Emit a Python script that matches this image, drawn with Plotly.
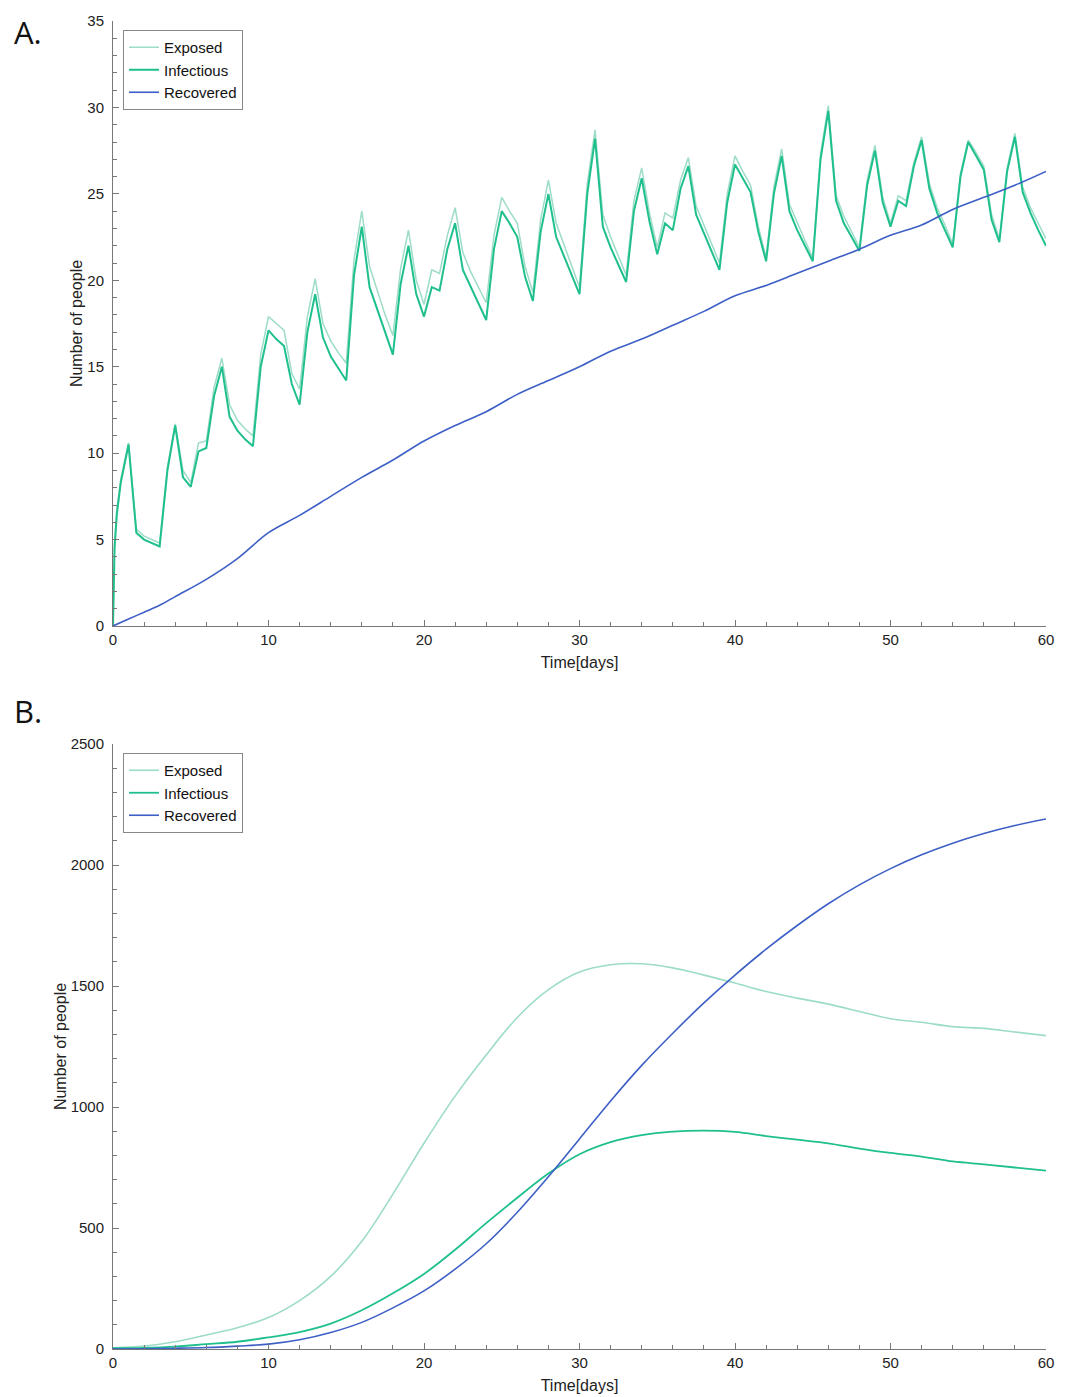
import plotly.graph_objects as go

# ---------------- Panel A data ----------------
t_A = [0, 0.1, 0.25, 0.5,
       1.0, 1.5, 2.0, 2.5, 3.0, 3.5, 4.0, 4.5, 5.0, 5.5, 6.0, 6.5, 7.0, 7.5, 8.0, 8.5, 9.0, 9.5, 10.0,
       10.5, 11.0, 11.5, 12.0, 12.5, 13.0, 13.5, 14.0, 14.5, 15.0, 15.5, 16.0, 16.5, 17.0, 17.5, 18.0,
       18.5, 19.0, 19.5, 20.0, 20.5, 21.0, 21.5, 22.0, 22.5, 23.0, 23.5, 24.0, 24.5, 25.0, 25.5, 26.0,
       26.5, 27.0, 27.5, 28.0, 28.5, 29.0, 29.5, 30.0, 30.5, 31.0, 31.5, 32.0, 32.5, 33.0, 33.5, 34.0,
       34.5, 35.0, 35.5, 36.0, 36.5, 37.0, 37.5, 38.0, 38.5, 39.0, 39.5, 40.0, 40.5, 41.0, 41.5, 42.0,
       42.5, 43.0, 43.5, 44.0, 44.5, 45.0, 45.5, 46.0, 46.5, 47.0, 47.5, 48.0, 48.5, 49.0, 49.5, 50.0,
       50.5, 51.0, 51.5, 52.0, 52.5, 53.0, 53.5, 54.0, 54.5, 55.0, 55.5, 56.0, 56.5, 57.0, 57.5, 58.0,
       58.5, 59.0, 59.5, 60.0]

infectious_A = [0, 4.5, 6.5, 8.3,
                10.5, 5.4, 5.0, 4.8, 4.6, 9.0, 11.6, 8.6, 8.05, 10.1, 10.3, 13.3, 15.0, 12.1, 11.3, 10.8, 10.4, 15.0, 17.1,
                16.6, 16.2, 14.0, 12.8, 17.0, 19.2, 16.7, 15.6, 14.9, 14.2, 20.3, 23.1, 19.6, 18.3, 17.0, 15.7,
                19.8, 22.0, 19.2, 17.9, 19.6, 19.4, 21.8, 23.3, 20.6, 19.6, 18.6, 17.7, 21.8, 24.0, 23.3, 22.5,
                20.2, 18.8, 22.8, 25.0, 22.5, 21.4, 20.3, 19.2, 25.0, 28.2, 23.1, 21.9, 20.9, 19.9, 24.0, 25.9,
                23.4, 21.5, 23.3, 22.9, 25.3, 26.6, 23.8, 22.7, 21.6, 20.6, 24.5, 26.7, 25.9, 25.1, 22.8, 21.1,
                25.0, 27.2, 24.0, 22.9, 22.0, 21.1, 27.0, 29.8, 24.6, 23.3, 22.5, 21.7, 25.5, 27.5, 24.5, 23.1,
                24.6, 24.3, 26.6, 28.1, 25.3, 23.9, 22.9, 21.9, 26.0, 28.0, 27.2, 26.4, 23.5, 22.2, 26.3, 28.3,
                25.1, 23.9, 22.9, 22.0]

exposed_A = [0, 4.8, 6.8, 8.5,
             10.6, 5.6, 5.2, 5.0, 4.8, 9.2, 11.7, 9.0, 8.3, 10.6, 10.7, 13.8, 15.5, 12.8, 11.9, 11.4, 11.0, 15.7, 17.9,
             17.5, 17.1, 14.6, 13.7, 17.9, 20.1, 17.5, 16.5, 15.8, 15.2, 21.2, 24.0, 20.8, 19.4, 18.0, 16.8,
             20.7, 22.9, 20.0, 18.6, 20.6, 20.4, 22.6, 24.2, 21.6, 20.5, 19.6, 18.7, 22.6, 24.8, 24.0, 23.3,
             20.8, 19.3, 23.5, 25.8, 23.3, 22.1, 20.8, 19.6, 25.6, 28.7, 23.8, 22.5, 21.4, 20.3, 24.6, 26.5,
             23.9, 21.9, 23.9, 23.6, 25.8, 27.1, 24.3, 23.2, 22.1, 21.0, 25.0, 27.2, 26.3, 25.5, 23.1, 21.3,
             25.4, 27.6, 24.4, 23.3, 22.3, 21.3, 27.3, 30.1, 24.9, 23.7, 22.8, 21.9, 25.8, 27.8, 24.8, 23.3,
             24.9, 24.6, 26.8, 28.3, 25.6, 24.2, 23.2, 22.1, 26.2, 28.1, 27.4, 26.6, 23.8, 22.4, 26.5, 28.5,
             25.4, 24.2, 23.3, 22.4]

t_rec_A = [0, 1, 2, 3, 4, 6, 8, 10, 12, 14, 16, 18, 20, 22, 24, 26, 28, 30, 32, 34, 36, 38, 40,
           42, 44, 46, 48, 50, 52, 54, 56, 58, 60]
recovered_A = [0, 0.4, 0.8, 1.2, 1.7, 2.7, 3.9, 5.4, 6.4, 7.5, 8.6, 9.6, 10.7, 11.6, 12.4, 13.4, 14.2,
               15.0, 15.9, 16.6, 17.4, 18.2, 19.1, 19.7, 20.4, 21.1, 21.8, 22.6, 23.2, 24.1, 24.8, 25.5, 26.3]

# ---------------- Panel B data ----------------
t_B = [0, 2, 4, 6, 8, 10, 12, 14, 16, 18, 20, 22, 24, 26, 28, 30, 32, 34, 36, 38, 40,
       42, 44, 46, 48, 50, 52, 54, 56, 58, 60]
exposed_B = [5, 12, 30, 58, 88, 130, 200, 300, 445, 640, 850, 1045, 1215, 1370, 1485, 1558, 1588, 1592,
             1575, 1545, 1512, 1477, 1450, 1425, 1395, 1365, 1350, 1332, 1325, 1310, 1295]
infectious_B = [3, 5, 10, 20, 30, 48, 70, 105, 160, 230, 310, 410, 520, 625, 725, 805, 855, 884, 898,
                902, 897, 880, 865, 850, 828, 810, 795, 775, 763, 750, 737]
recovered_B = [0, 1, 3, 6, 12, 20, 38, 68, 110, 170, 240, 330, 435, 565, 712, 868, 1025, 1172, 1305,
               1430, 1545, 1652, 1750, 1840, 1918, 1985, 2042, 2090, 2130, 2163, 2190]

labels = ["Exposed", "Infectious", "Recovered"]
panel_labels = ["A.", "B."]
c_exp = "#9ddcc6"
c_inf = "#1fbf8e"
c_rec = "#3d5fc6"

# page body has an 8px margin, so the figure starts at (8, 8) on screen
OFF = 8
W, H = 1073 - OFF, 1397 - OFF


def px_x(x):
    return (x - OFF) / W


def px_y(y):
    return 1 - (y - OFF) / H


x_dom = [px_x(113), px_x(1046)]
yA_dom = [px_y(626), px_y(21)]
yB_dom = [px_y(1349), px_y(744)]

fig = go.Figure()
fig.add_trace(go.Scatter(x=t_A, y=exposed_A, name=labels[0], mode="lines",
                         line=dict(color=c_exp, width=1.5), xaxis="x", yaxis="y", legend="legend"))
fig.add_trace(go.Scatter(x=t_A, y=infectious_A, name=labels[1], mode="lines",
                         line=dict(color=c_inf, width=2), xaxis="x", yaxis="y", legend="legend"))
fig.add_trace(go.Scatter(x=t_rec_A, y=recovered_A, name=labels[2], mode="lines",
                         line=dict(color=c_rec, width=1.6, shape="spline"), xaxis="x", yaxis="y",
                         legend="legend"))

fig.add_trace(go.Scatter(x=t_B, y=exposed_B, name=labels[0], mode="lines",
                         line=dict(color=c_exp, width=1.6, shape="spline"), xaxis="x2", yaxis="y2",
                         legend="legend2"))
fig.add_trace(go.Scatter(x=t_B, y=infectious_B, name=labels[1], mode="lines",
                         line=dict(color=c_inf, width=1.8, shape="spline"), xaxis="x2", yaxis="y2",
                         legend="legend2"))
fig.add_trace(go.Scatter(x=t_B, y=recovered_B, name=labels[2], mode="lines",
                         line=dict(color=c_rec, width=1.6, shape="spline"), xaxis="x2", yaxis="y2",
                         legend="legend2"))

font_main = "Liberation Sans, Arial, sans-serif"
tickfont = dict(family=font_main, size=15, color="#222")
titlefont = dict(family=font_main, size=16, color="#222")

axis_common = dict(showline=True, linecolor="#777", linewidth=1, showgrid=False, zeroline=False,
                   ticks="inside", ticklen=6, tickcolor="#777", tickfont=tickfont,
                   mirror=False, automargin=False)

fig.update_layout(
    width=W, height=H,
    margin=dict(l=0, r=0, t=0, b=0, autoexpand=False),
    paper_bgcolor="white", plot_bgcolor="white",
    showlegend=True,
    xaxis=dict(domain=x_dom, anchor="y", range=[0, 60], dtick=10, tick0=0,
               minor=dict(dtick=2, ticks="inside", ticklen=4, tickcolor="#777"),
               title=dict(text="Time[days]", font=titlefont, standoff=9), **axis_common),
    yaxis=dict(domain=yA_dom, anchor="x", range=[0, 35], dtick=5, tick0=0, ticklabelstandoff=5,
               minor=dict(dtick=1, ticks="inside", ticklen=4, tickcolor="#777"),
               title=dict(text="Number of people", font=titlefont, standoff=0), **axis_common),
    xaxis2=dict(domain=x_dom, anchor="y2", range=[0, 60], dtick=10, tick0=0,
                minor=dict(dtick=2, ticks="inside", ticklen=4, tickcolor="#777"),
                title=dict(text="Time[days]", font=titlefont, standoff=9), **axis_common),
    yaxis2=dict(domain=yB_dom, anchor="x2", range=[0, 2500], dtick=500, tick0=0, ticklabelstandoff=5,
                minor=dict(dtick=100, ticks="inside", ticklen=4, tickcolor="#777"),
                title=dict(text="Number of people", font=titlefont, standoff=0), **axis_common),
    legend=dict(x=px_x(123), y=px_y(30), xanchor="left", yanchor="top",
                bgcolor="white", bordercolor="#888", borderwidth=1,
                font=dict(family=font_main, size=15, color="#111"), tracegroupgap=0,
                itemwidth=30),
    legend2=dict(x=px_x(123), y=px_y(753), xanchor="left", yanchor="top",
                 bgcolor="white", bordercolor="#888", borderwidth=1,
                 font=dict(family=font_main, size=15, color="#111"), tracegroupgap=0,
                 itemwidth=30),
    annotations=[
        dict(text=panel_labels[0], x=px_x(12), y=px_y(9), xref="paper", yref="paper", xanchor="left",
             yanchor="top", height=41, valign="middle", showarrow=False,
             font=dict(family="Open Sans, sans-serif", size=31, color="#111")),
        dict(text=panel_labels[1], x=px_x(12), y=px_y(688), xref="paper", yref="paper", xanchor="left",
             yanchor="top", height=41, valign="middle", showarrow=False,
             font=dict(family="Open Sans, sans-serif", size=31, color="#111")),
    ],
)

fig.write_html("out.html")
